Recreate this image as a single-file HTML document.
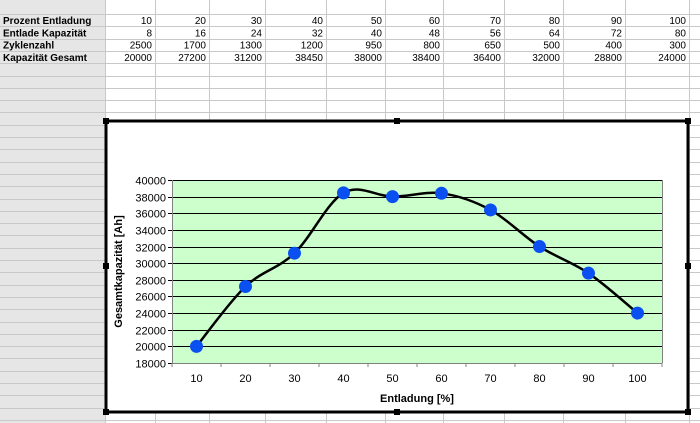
<!DOCTYPE html>
<html><head><meta charset="utf-8"><style>
body{margin:0;width:700px;height:423px;overflow:hidden;background:#fff;font-family:"Liberation Sans",sans-serif;}
svg{display:block}
</style></head><body>
<svg id="s" width="700" height="423" xmlns="http://www.w3.org/2000/svg">
<rect x="0" y="0" width="105" height="423" fill="#e6e6e6"/>
<g id="grid"></g>
<g id="cells" font-size="10" fill="#000"></g>
<g id="chart"></g>
</svg>
<script>
const categories=[10,20,30,40,50,60,70,80,90,100];
const entladeKap=[8,16,24,32,40,48,56,64,72,80];
const zyklen=[2500,1700,1300,1200,950,800,650,500,400,300];
const gesamt=[20000,27200,31200,38450,38000,38400,36400,32000,28800,24000];
const yTicks=[18000,20000,22000,24000,26000,28000,30000,32000,34000,36000,38000,40000];
const NS="http://www.w3.org/2000/svg";
function mk(tag,attrs,parent){const e=document.createElementNS(NS,tag);for(const k in attrs)e.setAttribute(k,attrs[k]);parent.appendChild(e);return e;}
const grid=document.getElementById('grid'),cells=document.getElementById('cells'),chart=document.getElementById('chart');
const colX=[105,155,209,265,326,385,443,504,563,625,689];
const rowH=12.3,row0=14;
for(const x of colX){mk('line',{x1:x+.5,y1:0,x2:x+.5,y2:423,stroke:'#c8c8c8'},grid);}
for(let i=0;i<34;i++){const y=Math.round(row0+i*rowH)+.5;mk('line',{x1:0,y1:y,x2:700,y2:y,stroke:'#c8c8c8'},grid);}
const labels=['Prozent Entladung','Entlade Kapazität','Zyklenzahl','Kapazität Gesamt'];
const rows=[categories,entladeKap,zyklen,gesamt];
labels.forEach((t,r)=>{const y=row0+r*rowH+10;
 const e=mk('text',{x:3,y:y,'font-weight':'bold'},cells);e.textContent=t;
 
 
 rows[r].forEach((v,c)=>{const t2=mk('text',{x:colX[c+1]-3,y:y,'text-anchor':'end'},cells);t2.textContent=v;
 
 });
});
mk('rect',{x:106,y:121,width:582,height:291,fill:'#fff',stroke:'#000','stroke-width':3},chart);
[[106,121],[397,121],[688,121],[106,266],[688,266],[106,412],[397,412],[688,412]].forEach(([x,y])=>{const h=mk('rect',{x:x-3,y:y-3,width:6,height:6,fill:'#000'},chart);

});
const L=172,R=662,T=180,B=363,yMin=18000,yMax=40000;
const step=(R-L)/categories.length;
const xs=i=>L+step*(i+.5);
const ys=v=>B-(v-yMin)/(yMax-yMin)*(B-T);
const pa=mk('rect',{x:L,y:T,width:R-L,height:B-T,fill:'#ccffcc'},chart);


yTicks.forEach(v=>{const y=Math.round(ys(v))+.5;
 const g=mk('line',{x1:L-4,y1:y,x2:R,y2:y,stroke:'#000','stroke-width':1},chart);
 
 
 const t=mk('text',{x:L-6,y:y+4,'text-anchor':'end','font-size':11},chart);t.textContent=v;
 
 });
mk('line',{x1:L+.5,y1:T,x2:L+.5,y2:B,stroke:'#808080'},chart);
mk('line',{x1:R+.5,y1:T,x2:R+.5,y2:B,stroke:'#808080'},chart);
mk('line',{x1:L,y1:B+.5,x2:R,y2:B+.5,stroke:'#808080'},chart);
for(let i=0;i<=categories.length;i++){const x=L+step*i;mk('line',{x1:x,y1:B,x2:x,y2:B+4,stroke:'#808080'},chart);}
categories.forEach((c,i)=>{const t=mk('text',{x:xs(i),y:B+19,'text-anchor':'middle','font-size':11},chart);t.textContent=c;
 
 });
const xt=mk('text',{x:(L+R)/2,y:402,'text-anchor':'middle','font-size':11,'font-weight':'bold'},chart);xt.textContent='Entladung [%]';


const yt=mk('text',{x:0,y:0,'text-anchor':'middle','font-size':11,'font-weight':'bold',transform:`translate(122,${(T+B)/2}) rotate(-90)`},chart);yt.textContent='Gesamtkapazität [Ah]';


const P=gesamt.map((v,i)=>[xs(i),ys(v)]);
let d=`M${P[0][0]},${P[0][1]}`;
for(let i=0;i<P.length-1;i++){const p0=P[Math.max(i-1,0)],p1=P[i],p2=P[i+1],p3=P[Math.min(i+2,P.length-1)];const k=1/6;
 d+=` C${p1[0]+(p2[0]-p0[0])*k},${p1[1]+(p2[1]-p0[1])*k} ${p2[0]-(p3[0]-p1[0])*k},${p2[1]-(p3[1]-p1[1])*k} ${p2[0]},${p2[1]}`;}
const line=mk('path',{d:d,fill:'none',stroke:'#000','stroke-width':2.5},chart);


P.forEach(([x,y])=>{const c=mk('circle',{cx:x,cy:y,r:6.5,fill:'#0a4ff0'},chart);
 
 });
</script>
</body></html>
